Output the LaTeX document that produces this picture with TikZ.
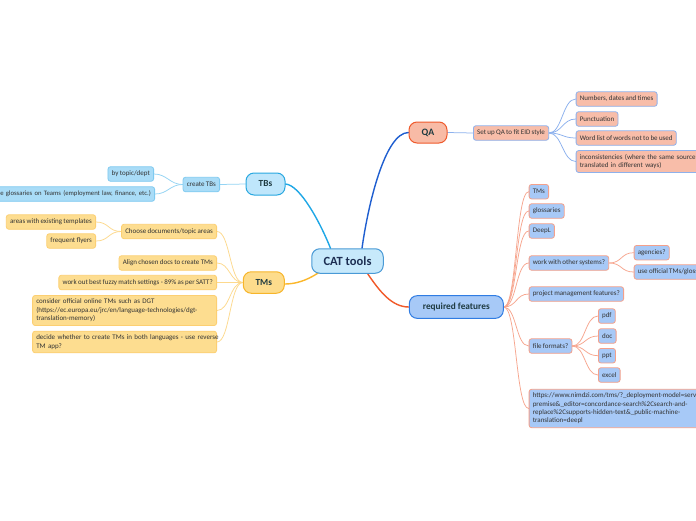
\documentclass[tikz,border=0pt]{standalone}
\usepackage{fontspec}
\setmainfont{Carlito}
\newcommand{\childfnt}{\fontsize{7}{8.4}\selectfont\spaceskip=0.19em plus 0em minus 0.03em\relax\hyphenpenalty=10000\relax}
\newcommand{\glossfnt}{\fontsize{6.7}{8.4}\selectfont\spaceskip=0.17em plus 0em minus 0.03em\relax}
\definecolor{catfill}{HTML}{C7E9FB}
\definecolor{catdraw}{HTML}{4A9AD6}
\definecolor{cattxt}{HTML}{1C2E52}
\definecolor{maintxt}{HTML}{1E3A40}
\definecolor{childtxt}{HTML}{333333}
\definecolor{tbsfill}{HTML}{BFE6FB}
\definecolor{tbsdraw}{HTML}{29A8E0}
\definecolor{tbcfill}{HTML}{A9DCF7}
\definecolor{tbcdraw}{HTML}{7FCAF0}
\definecolor{tmsfill}{HTML}{FDDC8C}
\definecolor{tmsdraw}{HTML}{F7B52A}
\definecolor{tmcfill}{HTML}{FDDD90}
\definecolor{tmcdraw}{HTML}{FCCF72}
\definecolor{qafill}{HTML}{F8BBA6}
\definecolor{qadraw}{HTML}{EF5A2C}
\definecolor{qacfill}{HTML}{F8BDA9}
\definecolor{qacdraw}{HTML}{8EB1EC}
\definecolor{rffill}{HTML}{A7C9F7}
\definecolor{rfdraw}{HTML}{2F7CE3}
\definecolor{rfcfill}{HTML}{A7C9F7}
\definecolor{rfcdraw}{HTML}{F4A08A}
\definecolor{tbsline}{HTML}{1EA7E6}
\definecolor{tbcline}{HTML}{94D4F4}
\definecolor{tmsline}{HTML}{FBB72B}
\definecolor{tmcline}{HTML}{FDD98D}
\definecolor{qaline}{HTML}{1E5ED0}
\definecolor{qacline}{HTML}{8CB1EE}
\definecolor{rfline}{HTML}{F15A2A}
\definecolor{rfcline}{HTML}{F7A68F}
\pgfdeclarelayer{background}
\pgfsetlayers{background,main}
\begin{document}
\begin{tikzpicture}[x=1pt,y=-1pt,
  mainnode/.style={rounded corners=8pt, line width=1pt, inner sep=0pt, text=maintxt,
    font=\bfseries\fontsize{9.3}{11}\selectfont},
  child/.style={rounded corners=2.5pt, line width=0.8pt, inner xsep=3.7pt, inner ysep=3.6pt,
    minimum height=14.5pt, text=childtxt, font=\childfnt},
  tbc/.style={child, fill=tbcfill, draw=tbcdraw},
  tmc/.style={child, fill=tmcfill, draw=tmcdraw},
  qac/.style={child, fill=qacfill, draw=qacdraw},
  rfc/.style={child, fill=rfcfill, draw=rfcdraw},
  mainedge/.style={line width=1.4pt, line cap=round},
  subedge/.style={line width=0.75pt, line cap=round},
]
\useasboundingbox (0,0) rectangle (696,520);

% main nodes
\node[mainnode, fill=catfill, draw=catdraw, text=cattxt, minimum width=71.5pt, minimum height=24.5pt,
  font=\bfseries\fontsize{12.5}{14}\selectfont] (cat) at (347.5,261) {CAT tools};
\node[mainnode, fill=tbsfill, draw=tbsdraw, minimum width=39pt, minimum height=22pt] (tbs) at (265.5,184) {TBs};
\node[mainnode, fill=tmsfill, draw=tmsdraw, minimum width=41pt, minimum height=21.5pt] (tms) at (263.8,282.5) {TMs};
\node[mainnode, fill=qafill, draw=qadraw, minimum width=38pt, minimum height=21pt,
  font=\bfseries\fontsize{9.8}{11}\selectfont] (qa) at (428,132.5) {QA};
\node[mainnode, fill=rffill, draw=rfdraw, minimum width=94pt, minimum height=22.7pt] (rf) at (456.3,307) {required features};

% TBs branch
\node[tbc, anchor=east] (ctb) at (220,184.5) {create TBs};
\node[tbc, anchor=east] (bytopic) at (154,174) {by topic/dept};
\node[tbc, anchor=east, text width=175pt, align=right, font=\glossfnt] (gloss) at (155,194) {e glossaries on Teams (employment law, finance, etc.)};

% TMs branch
\node[tmc, anchor=east] (choose) at (217,231.5) {Choose documents/topic areas};
\node[tmc, anchor=east] (areas) at (96,222) {areas with existing templates};
\node[tmc, anchor=east] (flyers) at (96,241) {frequent flyers};
\node[tmc, anchor=east] (align) at (217,263) {Align chosen docs to create TMs};
\node[tmc, anchor=east] (fuzzy) at (217,282.5) {work out best fuzzy match settings - 89\% as per SATT?};
\node[tmc, anchor=east, text width=176.6pt, align=left] (dgt) at (217,310.5) {consider official online TMs such as DGT\\(https://ec.europa.eu/jrc/en/language-technologies/dgt-\\translation-memory)};
\node[tmc, anchor=east, text width=176.6pt, align=left] (reverse) at (217,342) {\mbox{decide whether to create TMs in both languages - use reverse}\\TM app?};

% QA branch
\node[qac, anchor=west] (setup) at (473,133) {Set up QA to fit EID style};
\node[qac, anchor=west] (numbers) at (575.7,99) {Numbers, dates and times};
\node[qac, anchor=west] (punct) at (575.7,119) {Punctuation};
\node[qac, anchor=west] (wordlist) at (575.7,138) {Word list of words not to be used};
\node[qac, anchor=west, text width=180pt, align=left] (incons) at (575.7,161.5) {inconsistencies (where the same source text is\\translated in different ways)};

% required features branch
\node[rfc, anchor=west] (rtms) at (528.7,191.7) {TMs};
\node[rfc, anchor=west] (rgloss) at (528.7,211) {glossaries};
\node[rfc, anchor=west] (deepl) at (528.7,231) {DeepL};
\node[rfc, anchor=west] (other) at (528.7,263) {work with other systems?};
\node[rfc, anchor=west] (agencies) at (633.7,252.7) {agencies?};
\node[rfc, anchor=west] (official) at (633.7,272) {use official TMs/glossaries?};
\node[rfc, anchor=west] (pm) at (528.7,294) {project management features?};
\node[rfc, anchor=west] (ff) at (528.7,346) {file formats?};
\node[rfc, anchor=west] (pdf) at (598,316) {pdf};
\node[rfc, anchor=west] (doc) at (598,336) {doc};
\node[rfc, anchor=west] (ppt) at (598,355.7) {ppt};
\node[rfc, anchor=west] (excel) at (598,375) {excel};
\node[rfc, anchor=west, text width=185pt, align=left] (url) at (528.7,408.5) {https://www.nimdzi.com/tms/?\_deployment-model=server\\premise\&\_editor=concordance-search\%2Csearch-and-\\replace\%2Csupports-hidden-text\&\_public-machine-\\translation=deepl};

\begin{pgfonlayer}{background}
\fill[white] (0,0) rectangle (696,520);
% main edges
\draw[mainedge, tbsline] ([xshift=-17pt]cat.north) .. controls (320,222) and (300,185) .. (tbs.east);
\draw[mainedge, qaline] ([xshift=14.5pt]cat.north) .. controls (368,205) and (385,132.5) .. (qa.west);
\draw[mainedge, tmsline] ([xshift=-29pt,yshift=1pt]cat.south) .. controls (306,281) and (295,284) .. ([yshift=-1.5pt]tms.east);
\draw[mainedge, rfline] ([xshift=19.5pt,yshift=1pt]cat.south) .. controls (380,292) and (392,307) .. (rf.west);

% TBs sub edges
\draw[subedge, tbcline] (tbs.west) -- (ctb.east);
\foreach \c in {bytopic,gloss}
  \draw[subedge, tbcline] (ctb.west) .. controls +(-13,0) and +(13,0) .. (\c.east);

% TMs sub edges
\foreach \c in {choose,align,fuzzy,dgt,reverse}
  \draw[subedge, tmcline] (tms.west) .. controls +(-13,0) and +(13,0) .. (\c.east);
\foreach \c in {areas,flyers}
  \draw[subedge, tmcline] (choose.west) .. controls +(-13,0) and +(13,0) .. (\c.east);

% QA sub edges
\draw[subedge, qacline] (qa.east) -- (setup.west);
\foreach \c in {numbers,punct,wordlist,incons}
  \draw[subedge, qacline] (setup.east) .. controls +(13,0) and +(-13,0) .. (\c.west);

% required features sub edges
\foreach \c in {rtms,rgloss,deepl,other,pm,ff,url}
  \draw[subedge, rfcline] (rf.east) .. controls +(13,0) and +(-13,0) .. (\c.west);
\foreach \c in {agencies,official}
  \draw[subedge, rfcline] (other.east) .. controls +(13,0) and +(-13,0) .. (\c.west);
\foreach \c in {pdf,doc,ppt,excel}
  \draw[subedge, rfcline] (ff.east) .. controls +(13,0) and +(-13,0) .. (\c.west);
\end{pgfonlayer}
\end{tikzpicture}
\end{document}
